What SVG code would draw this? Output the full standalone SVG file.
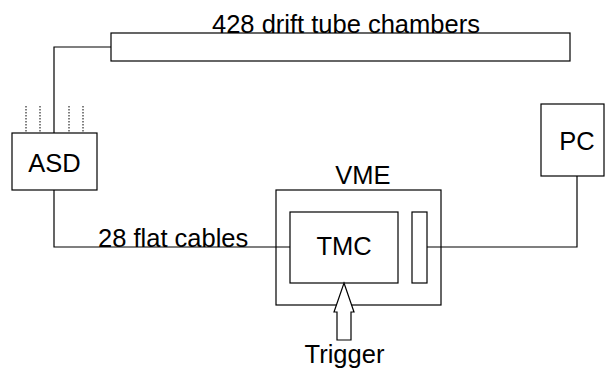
<svg xmlns="http://www.w3.org/2000/svg" width="605" height="374" viewBox="0 0 605 374">
<style>
.box{fill:#fff;stroke:#000;stroke-width:1.2}
.ln{fill:none;stroke:#000;stroke-width:1.2}
.dot{fill:none;stroke:#000;stroke-width:1;stroke-dasharray:1.5 1.5}
text{font-family:"Liberation Sans",Arial,sans-serif;font-size:25.5px;fill:#000}
</style>
<rect width="605" height="374" fill="#fff"/>
<g id="connectors">
<polyline class="ln" points="111,47 54,47 54,133"/>
<polyline class="ln" points="54,190 54,247 290,247"/>
<polyline class="ln" points="427,247 577,247 577,176"/>
<line class="dot" x1="26" y1="106" x2="26" y2="133"/>
<line class="dot" x1="40" y1="106" x2="40" y2="133"/>
<line class="dot" x1="69" y1="106" x2="69" y2="133"/>
<line class="dot" x1="83" y1="106" x2="83" y2="133"/>
<text x="98" y="247">28 flat cables</text>
</g>
<g id="chambers">
<rect class="box" x="111" y="33" width="459" height="28"/>
<text x="212" y="33">428 drift tube chambers</text>
</g>
<g id="asd">
<rect class="box" x="12" y="133" width="85" height="57"/>
<text x="54.5" y="172" text-anchor="middle">ASD</text>
</g>
<g id="vme">
<rect class="ln" x="276" y="190" width="165" height="115"/>
<text x="363" y="184" text-anchor="middle">VME</text>
</g>
<g id="tmc">
<rect class="box" x="290" y="212" width="108" height="71"/>
<text x="344" y="255" text-anchor="middle">TMC</text>
</g>
<g id="slot">
<rect class="box" x="412" y="212" width="15" height="71"/>
</g>
<g id="pc">
<rect class="box" x="541" y="104" width="63" height="72"/>
<text x="577" y="150" text-anchor="middle">PC</text>
</g>
<g id="trigger">
<polygon class="box" points="344,283 354,312 351,312 351,340 337,340 337,312 334,312"/>
<text x="344.5" y="363" text-anchor="middle">Trigger</text>
</g>
</svg>
